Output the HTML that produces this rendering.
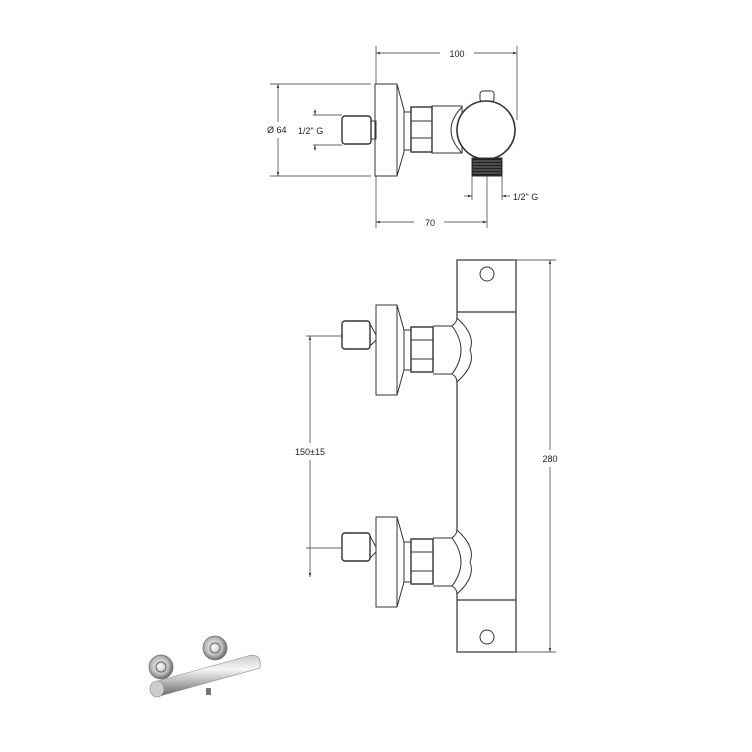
<!DOCTYPE html>
<html><head><meta charset="utf-8"><style>
html,body{margin:0;padding:0;background:#fff}
svg{display:block}
text{font-family:"Liberation Sans",sans-serif;font-size:9px;fill:#222}
</style></head><body>
<svg width="752" height="752" viewBox="0 0 752 752" xmlns="http://www.w3.org/2000/svg">
<defs>
<marker id="a" viewBox="0 0 10 10" refX="10" refY="5" markerWidth="6" markerHeight="6" orient="auto-start-reverse"><path d="M0,2 L10,5 L0,8z" fill="#333"/></marker>
<radialGradient id="g1" cx="0.45" cy="0.45" r="0.6"><stop offset="0" stop-color="#fafafa"/><stop offset="0.6" stop-color="#bbb"/><stop offset="1" stop-color="#555"/></radialGradient>
<linearGradient id="g2" x1="0" y1="0" x2="0" y2="1"><stop offset="0" stop-color="#ccc"/><stop offset="0.35" stop-color="#f6f6f6"/><stop offset="0.7" stop-color="#aaa"/><stop offset="1" stop-color="#666"/></linearGradient>
</defs>
<g fill="none" stroke="#333" stroke-width="1">
<!-- TOP VIEW -->
<line x1="376" y1="46" x2="376" y2="84" stroke-width="0.7"/>
<line x1="517" y1="46" x2="517" y2="120" stroke-width="0.7"/>
<line x1="376" y1="53" x2="440" y2="53" stroke-width="0.7" marker-start="url(#a)"/>
<line x1="474" y1="53" x2="517" y2="53" stroke-width="0.7" marker-end="url(#a)"/>
<line x1="270" y1="84" x2="371" y2="84" stroke-width="0.7"/>
<line x1="270" y1="176" x2="371" y2="176" stroke-width="0.7"/>
<line x1="278" y1="84" x2="278" y2="122" stroke-width="0.7" marker-start="url(#a)"/>
<line x1="278" y1="138" x2="278" y2="176" stroke-width="0.7" marker-end="url(#a)"/>
<line x1="313" y1="115" x2="342" y2="115" stroke-width="0.7"/>
<line x1="313" y1="145" x2="342" y2="145" stroke-width="0.7"/>
<line x1="315" y1="109" x2="315" y2="115" stroke-width="0.7" marker-end="url(#a)"/>
<line x1="315" y1="151" x2="315" y2="145" stroke-width="0.7" marker-end="url(#a)"/>
<rect x="375" y="84" width="22" height="92"/>
<path d="M397,84 L404,110 L404,152 L397,176"/>
<rect x="342" y="116" width="29" height="28" rx="3" stroke-width="1.4"/>
<rect x="371" y="121" width="5" height="18"/>
<rect x="404" y="112" width="7" height="38"/>
<rect x="411" y="107" width="21" height="45" stroke-width="1.4"/>
<line x1="411" y1="121" x2="432" y2="121"/><line x1="411" y1="138" x2="432" y2="138"/>
<rect x="432" y="106" width="30" height="47"/>
<path d="M462,107 Q440,130 462,153"/>
<rect x="480" y="91" width="14" height="11" rx="3"/>
<circle cx="486" cy="130" r="29" fill="#fff" stroke-width="1.6"/>
<rect x="472" y="158" width="30" height="18" fill="#222"/>
<g stroke="#ccc" stroke-width="0.6"><line x1="473" y1="161" x2="501" y2="161"/><line x1="473" y1="164" x2="501" y2="164"/><line x1="473" y1="167" x2="501" y2="167"/><line x1="473" y1="170" x2="501" y2="170"/><line x1="473" y1="173" x2="501" y2="173"/></g>
<line x1="472" y1="176" x2="472" y2="200" stroke-width="0.7"/>
<line x1="502" y1="176" x2="502" y2="200" stroke-width="0.7"/>
<line x1="487" y1="176" x2="487" y2="228" stroke-width="0.7"/>
<line x1="376" y1="176" x2="376" y2="228" stroke-width="0.7"/>
<line x1="464" y1="196" x2="472" y2="196" stroke-width="0.7" marker-end="url(#a)"/>
<line x1="510" y1="196" x2="502" y2="196" stroke-width="0.7" marker-end="url(#a)"/>
<line x1="376" y1="222" x2="414" y2="222" stroke-width="0.7" marker-start="url(#a)"/>
<line x1="444" y1="222" x2="487" y2="222" stroke-width="0.7" marker-end="url(#a)"/>
<!-- FRONT VIEW -->
<rect x="457" y="260" width="59" height="392" stroke-width="1.2"/>
<line x1="457" y1="312" x2="516" y2="312" stroke-width="1.2"/>
<line x1="457" y1="600" x2="516" y2="600" stroke-width="1.2"/>
<circle cx="487" cy="274" r="7"/>
<circle cx="487" cy="637" r="7"/>
<line x1="516" y1="260" x2="556" y2="260" stroke-width="0.7"/>
<line x1="516" y1="652" x2="556" y2="652" stroke-width="0.7"/>
<line x1="550" y1="260" x2="550" y2="450" stroke-width="0.7" marker-start="url(#a)"/>
<line x1="550" y1="467" x2="550" y2="652" stroke-width="0.7" marker-end="url(#a)"/>
<g id="top">
<rect x="376" y="305" width="21" height="90"/>
<path d="M397,305 L404,330 L404,370 L397,395"/>
<rect x="404" y="330" width="7" height="40"/>
<rect x="411" y="327" width="22" height="45" stroke-width="1.4"/>
<line x1="411" y1="340" x2="433" y2="340"/><line x1="411" y1="359" x2="433" y2="359"/>
<path d="M433,326 L452,326 M433,374 L452,374"/>
<path d="M452,326 Q457,322 457,318 Q476,335 470,350 Q476,365 457,382 Q457,377 452,374" fill="#fff"/>
<path d="M452,326 Q470,350 452,374"/>
<rect x="342" y="321" width="28" height="28" rx="3" stroke-width="1.4"/>
<path d="M370,324 L376,335 M370,346 L376,340"/>
<line x1="306" y1="336" x2="342" y2="336" stroke-width="0.7"/>
</g>
<use href="#top" transform="translate(0,212)"/>
<line x1="310" y1="336" x2="310" y2="443" stroke-width="0.7" marker-start="url(#a)"/>
<line x1="310" y1="460" x2="310" y2="577" stroke-width="0.7" marker-end="url(#a)"/>
</g>
<text x="457" y="57" text-anchor="middle">100</text>
<text x="267" y="133">Ø 64</text>
<text x="298" y="134">1/2" G</text>
<text x="513" y="200">1/2" G</text>
<text x="430" y="226" text-anchor="middle">70</text>
<text x="310" y="455" text-anchor="middle">150±15</text>
<text x="550" y="462" text-anchor="middle">280</text>
<!-- product photo -->
<g>
<circle cx="161" cy="667" r="12" fill="url(#g1)" stroke="#777" stroke-width="0.8"/>
<circle cx="161" cy="667" r="5" fill="none" stroke="#666" stroke-width="1"/>
<circle cx="215" cy="648" r="12" fill="url(#g1)" stroke="#777" stroke-width="0.8"/>
<circle cx="215" cy="648" r="5" fill="none" stroke="#666" stroke-width="1"/>
<rect x="206" y="688" width="5" height="7" fill="#777"/>
<path d="M154,682 L248,656 Q262,652 260,668 L160,696 Q148,698 152,686z" fill="url(#g2)" stroke="#888" stroke-width="0.6"/>
<ellipse cx="157" cy="689" rx="7" ry="8" fill="#ccc" stroke="#888" stroke-width="0.6"/>
</g>
</svg>
</body></html>
